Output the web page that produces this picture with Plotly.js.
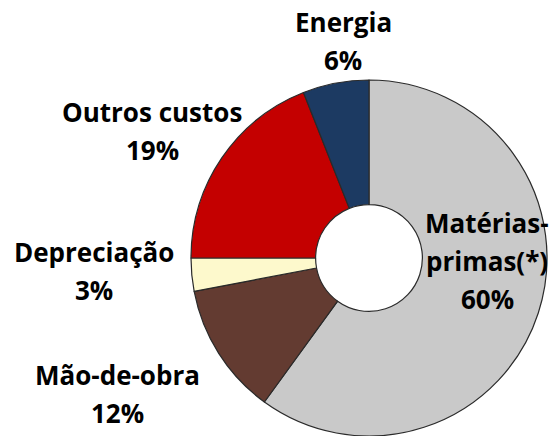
<!DOCTYPE html>
<html>
<head>
<meta charset="utf-8">
<script src="https://cdn.plot.ly/plotly-3.0.1.min.js"></script>
<style>
html,body{margin:0;padding:0;background:#fff;}
#chart{width:552px;height:436px;}
</style>
</head>
<body>
<div id="chart"></div>
<script>
const categories = ['Matérias-primas(*)', 'Mão-de-obra', 'Depreciação', 'Outros custos', 'Energia'];
const labelLines = [['Matérias-', 'primas(*)'], ['Mão-de-obra'], ['Depreciação'], ['Outros custos'], ['Energia']];
const shares = [60, 12, 3, 19, 6];
const colors = ['#c9c9c9', '#633b31', '#fdf9cc', '#c40000', '#1c3a62'];

// label anchor positions (pixel centre of first line) for each category
const W = 552, H = 436, LINE_GAP = 38;
const labelPx = [487, 117, 94, 152, 343];
const labelPy = [223, 375, 252, 112, 22];

const trace = {
  type: 'pie',
  labels: categories,
  values: shares,
  sort: false,
  direction: 'clockwise',
  rotation: 0,
  hole: 0.30,
  textinfo: 'none',
  hoverinfo: 'label+percent',
  marker: { colors: colors, line: { color: '#2a2a2a', width: 1.2 } },
  domain: { x: [189/W, 549/W], y: [0, 356/H] },
  showlegend: false
};

const annotations = [];
categories.forEach((c, i) => {
  const lines = labelLines[i].concat([shares[i] + '%']);
  lines.forEach((t, k) => {
    annotations.push({
      xref: 'paper', yref: 'paper',
      x: labelPx[i] / W, y: 1 - (labelPy[i] + k * LINE_GAP) / H,
      xanchor: 'center', yanchor: 'middle',
      text: '<b>' + t + '</b>',
      showarrow: false,
      align: 'center',
      font: { family: '"Open Sans", Lato, sans-serif', size: 26, color: '#000' }
    });
  });
});

Plotly.newPlot('chart', [trace], {
  width: W, height: H,
  margin: { l: 0, r: 0, t: 0, b: 0 },
  paper_bgcolor: '#ffffff',
  annotations: annotations,
  showlegend: false
}, { displayModeBar: false, staticPlot: true });
</script>
</body>
</html>
